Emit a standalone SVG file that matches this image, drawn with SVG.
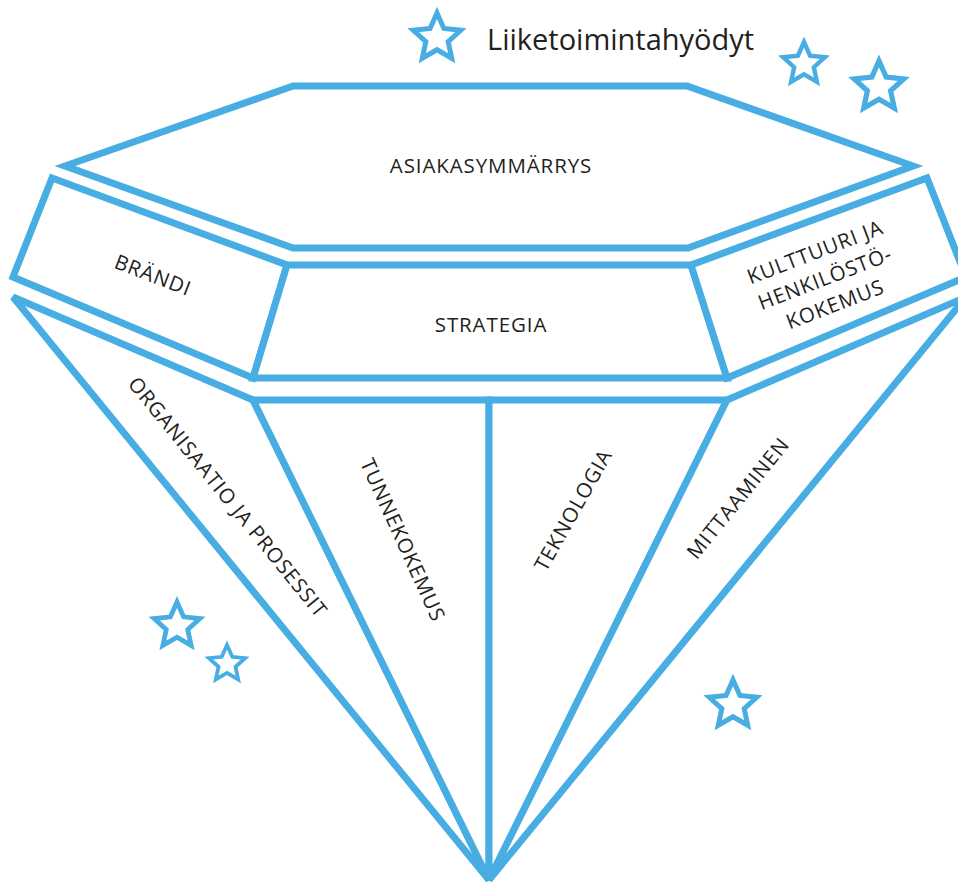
<svg xmlns="http://www.w3.org/2000/svg" xmlns:xlink="http://www.w3.org/1999/xlink" width="958" height="886" viewBox="0 0 958 886">
<style>
.f{fill:#fff;stroke:#47ADE2;stroke-width:7;stroke-linejoin:miter}
.st{fill:none;stroke:#47ADE2;stroke-width:5;stroke-linejoin:miter}
.t{font-family:"Open Sans","Noto Sans","Liberation Sans",sans-serif;font-size:20.5px;letter-spacing:0.9px;fill:#231F20;text-anchor:middle}
.title{font-family:"Open Sans","Noto Sans","Liberation Sans",sans-serif;font-size:29px;fill:#231F20}
</style>
<defs>
<path id="star" d="M0,-25 L6.91,-9.51 L23.78,-7.73 L11.18,3.63 L14.7,20.23 L0,11.75 L-14.7,20.23 L-11.18,3.63 L-23.78,-7.73 L-6.91,-9.51 Z"/>
</defs>
<rect width="958" height="886" fill="#fff"/>
<g id="stars">
<use xlink:href="#star" class="st" transform="translate(437,38)"/>
<use xlink:href="#star" class="st" transform="translate(804,64) scale(0.88)"/>
<use xlink:href="#star" class="st" transform="translate(879,87) scale(1.04)"/>
<use xlink:href="#star" class="st" transform="translate(177,626) scale(0.96)"/>
<use xlink:href="#star" class="st" transform="translate(227,664) scale(0.76)"/>
<use xlink:href="#star" class="st" transform="translate(733,705)"/>
</g>
<g id="title"><text class="title" x="487" y="50">Liiketoimintahyödyt</text></g>
<g id="organisaatio">
<polygon class="f" points="13,297 253,400 489,880"/>
<text class="t" transform="translate(228,497) rotate(51)" dy=".36em">ORGANISAATIO JA PROSESSIT</text>
</g>
<g id="tunnekokemus">
<polygon class="f" points="253,400 489,400 489,880"/>
<text class="t" transform="translate(403,540) rotate(65.5)" dy=".36em">TUNNEKOKEMUS</text>
</g>
<g id="teknologia">
<polygon class="f" points="489,400 727,400 489,880"/>
<text class="t" transform="translate(573,510) rotate(-60.5)" dy=".36em">TEKNOLOGIA</text>
</g>
<g id="mittaaminen">
<polygon class="f" points="727,400 966,297 489,880"/>
<text class="t" transform="translate(738,498) rotate(-51)" dy=".36em">MITTAAMINEN</text>
</g>
<g id="brandi">
<polygon class="f" points="52,178 287,265 253,378 13,277"/>
<text class="t" transform="translate(153,275) rotate(21)" dy=".36em">BRÄNDI</text>
</g>
<g id="strategia">
<polygon class="f" points="287,265 691,265 727,378 253,378"/>
<text class="t" x="491" y="325" dy=".36em">STRATEGIA</text>
</g>
<g id="kulttuuri">
<polygon class="f" points="691,265 927,178 966,277 727,378"/>
<text class="t" transform="translate(825,278) rotate(-21)"><tspan x="0" y="-28" dy=".36em">KULTTUURI JA</tspan><tspan x="0" y="0" dy=".36em">HENKILÖSTÖ-</tspan><tspan x="0" y="28" dy=".36em">KOKEMUS</tspan></text>
</g>
<g id="asiakasymmarrys">
<polygon class="f" points="65,166 293,86 687,86 913,166 688,248 293,248"/>
<text class="t" x="491" y="166" dy=".36em">ASIAKASYMMÄRRYS</text>
</g>
<g id="connectors"></g>
</svg>
